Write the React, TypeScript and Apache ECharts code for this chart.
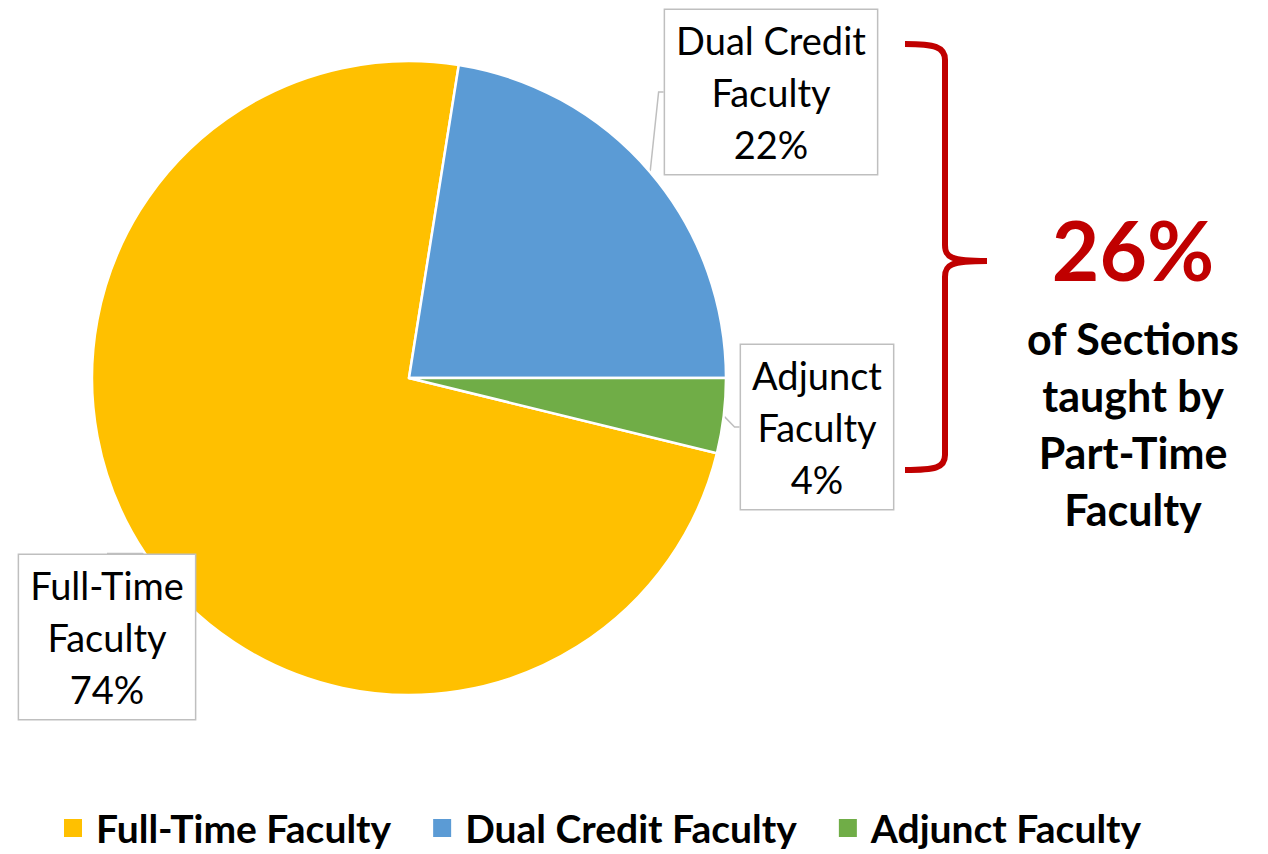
import React, { useEffect, useRef } from "react";
import * as echarts from "echarts";

const categories = ["Full-Time Faculty", "Dual Credit Faculty", "Adjunct Faculty"];
const values = [73.7, 22.49, 3.81];
const colors = ["#FFC000", "#5B9BD5", "#70AD47"];
const partTimeIdx = [1, 2];
const noteLines = ["of Sections", "taught by", "Part-Time", "Faculty"];

const labelSpots = [
  { x: 107, y: 637 },
  { x: 771, y: 92 },
  { x: 817, y: 427 },
];

const BRACE =
  "M905,44 C935,44 945,47 945,60 L945,245 C945,257 950,261 987,261 C950,261 945,265 945,277 L945,455 C945,468 935,470 905,470";

echarts.graphic.registerShape("brace", echarts.graphic.extendPath(BRACE, {}) as any);

export default function App() {
  const ref = useRef<HTMLDivElement>(null);
  useEffect(() => {
    if (!ref.current) return;
    const chart = echarts.init(ref.current, null, { renderer: "svg" });
    const total = values.reduce((a, b) => a + b, 0);
    const partPct = partTimeIdx.reduce((s, i) => s + Math.round((values[i] / total) * 100), 0);
    const lastAngle = (values[values.length - 1] / total) * 360;
    const font = "Lato";
    chart.setOption({
      animation: false,
      legend: {
        data: categories,
        left: 62,
        top: 807,
        padding: 0,
        icon: "rect",
        itemWidth: 20,
        itemHeight: 20,
        itemGap: 40,
        textStyle: {
          fontFamily: font,
          fontWeight: "bold",
          fontSize: 39,
          color: "#000",
          lineHeight: 42,
          padding: [0, 0, 0, 8],
        },
      },
      series: [
        {
          type: "pie",
          center: [409, 378],
          radius: 317,
          startAngle: -lastAngle,
          clockwise: true,
          avoidLabelOverlap: false,
          data: categories.map((c, i) => ({ name: c, value: values[i], itemStyle: { color: colors[i] } })),
          itemStyle: { borderColor: "#fff", borderWidth: 2.5 },
          label: {
            show: true,
            position: "outside",
            overflow: "none",
            edgeDistance: 0,
            bleedMargin: 0,
            formatter: (p: any) => p.name.replace(/ (\S+)$/, "\n$1") + "\n" + Math.round(p.percent) + "%",
            fontFamily: font,
            fontSize: 38,
            lineHeight: 52,
            color: "#000",
            align: "center",
            backgroundColor: "#fff",
            borderColor: "#BFBFBF",
            borderWidth: 1.5,
            padding: [5, 11, 3, 11],
          },
          labelLine: { show: true, length: 5, length2: 5, lineStyle: { color: "#BFBFBF", width: 1.5 } },
          labelLayout: (params: any) => {
            const s = labelSpots[params.dataIndex];
            return { x: s.x, y: s.y, align: "center", verticalAlign: "middle" };
          },
          emphasis: { disabled: true },
        },
      ],
      graphic: [
        {
          type: "brace",
          x: 0,
          y: 0,
          style: { fill: "none", stroke: "#C00000", lineWidth: 6 },
        },
        {
          type: "text",
          x: 1133,
          y: 249,
          style: {
            text: partPct + "%",
            fontFamily: font,
            fontWeight: "bold",
            fontSize: 82,
            fill: "#C00000",
            align: "center",
            verticalAlign: "middle",
          },
        },
        {
          type: "text",
          x: 1133,
          y: 424,
          style: {
            text: noteLines.join("\n"),
            fontFamily: font,
            fontWeight: "bold",
            fontSize: 43,
            lineHeight: 57,
            fill: "#000",
            align: "center",
            verticalAlign: "middle",
          },
        },
      ],
    });
    return () => chart.dispose();
  }, []);
  return <div ref={ref} style={{ position: "absolute", left: 0, top: 0, width: 1268, height: 854 }} />;
}
